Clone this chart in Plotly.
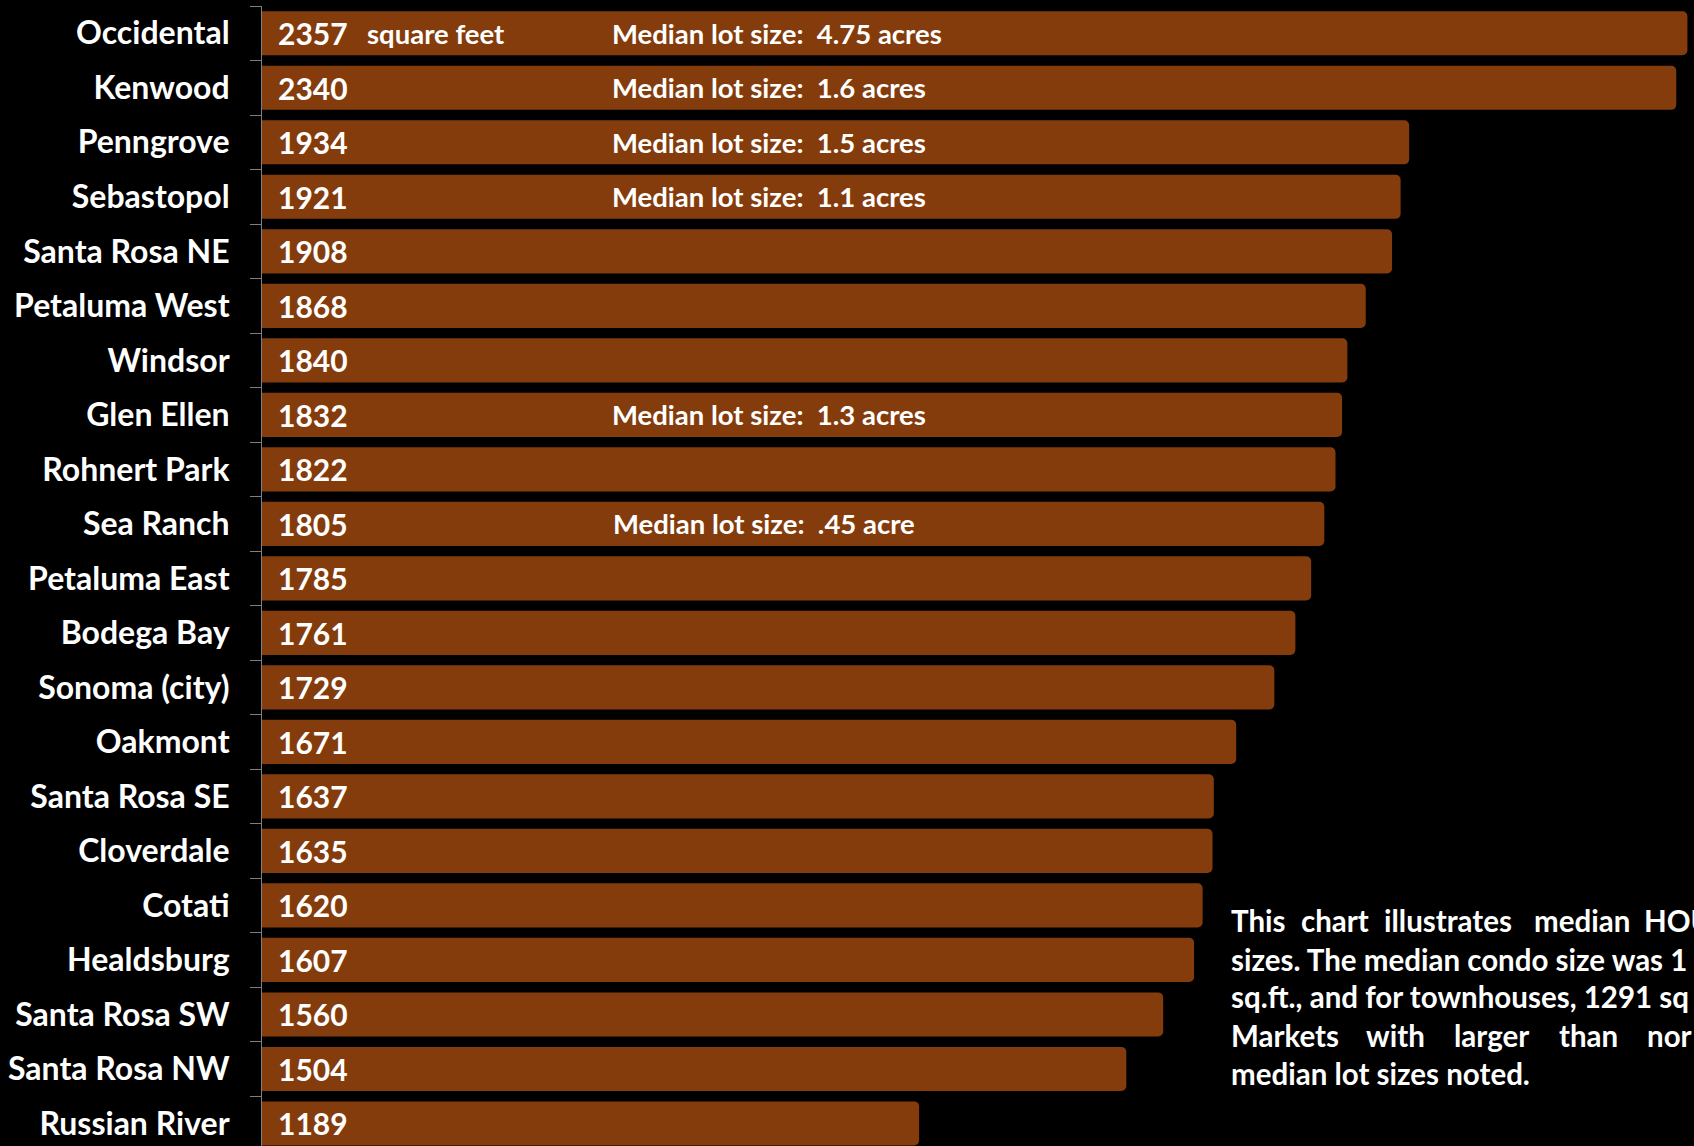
import plotly.graph_objects as go

# ---------------- data ----------------
areas = ["Occidental", "Kenwood", "Penngrove", "Sebastopol", "Santa Rosa NE",
         "Petaluma West", "Windsor", "Glen Ellen", "Rohnert Park", "Sea Ranch",
         "Petaluma East", "Bodega Bay", "Sonoma (city)", "Oakmont", "Santa Rosa SE",
         "Cloverdale", "Cotati", "Healdsburg", "Santa Rosa SW", "Santa Rosa NW",
         "Russian River"]
median_sqft = [2357, 2340, 1934, 1921, 1908, 1868, 1840, 1832, 1822, 1805,
               1785, 1761, 1729, 1671, 1637, 1635, 1620, 1607, 1560, 1504, 1189]

lot_areas = ["Occidental", "Kenwood", "Penngrove", "Sebastopol", "Glen Ellen", "Sea Ranch"]
lot_notes = ["Median lot size:  4.75 acres", "Median lot size:  1.6 acres",
             "Median lot size:  1.5 acres", "Median lot size:  1.1 acres",
             "Median lot size:  1.3 acres", "Median lot size:  .45 acre"]

unit_label = "square feet"

note_line1 = ["This", "chart", "illustrates", "median", "HOU"]
note_line2 = "sizes. The median condo size was 1"
note_line3 = "sq.ft., and for townhouses, 1291 sq"
note_line4 = ["Markets", "with", "larger", "than", "nor"]
note_line5 = "median lot sizes noted."

# ---------------- layout constants ----------------
W, H = 1694, 1146
PL, PR, PT, PB = 262, 1694, 6, 1146
BAR_COLOR = "#843C0C"
FONT = "Lato"
SHIFT = -3  # compensate annotation padding


def px_x(px):
    return (px + SHIFT - PL) / (PR - PL)


def px_y(py):
    return 1 - (py - PT) / (PB - PT)


fig = go.Figure()
fig.add_trace(go.Bar(
    x=median_sqft, y=areas, orientation="h",
    marker=dict(color=BAR_COLOR, line=dict(width=0), cornerradius=5),
    hoverinfo="x+y",
))

ann = []
# value labels inside bars
for a, v in zip(areas, median_sqft):
    ann.append(dict(x=px_x(279), xref="paper", y=a, yref="y", text=str(v),
                    xanchor="left", yanchor="middle", showarrow=False,
                    font=dict(family=FONT, size=30, color="white", weight="bold")))
# "square feet"
ann.append(dict(x=px_x(368), xref="paper", y=areas[0], yref="y", text=unit_label,
                xanchor="left", yanchor="middle", showarrow=False,
                font=dict(family=FONT, size=27.5, color="white", weight="bold")))
# lot size notes
for a, t in zip(lot_areas, lot_notes):
    xpx = 614 if a == "Sea Ranch" else 613
    ann.append(dict(x=px_x(xpx), xref="paper", y=a, yref="y", text=t,
                    xanchor="left", yanchor="middle", showarrow=False,
                    font=dict(family=FONT, size=27.5, color="white", weight="bold")))

# explanatory note (justified look)
note_font = dict(family=FONT, size=29.5, color="white", weight="bold")
line_y = [920.5, 959.4, 996.0, 1035.0, 1073.0]
line1_x = [1232, 1302, 1385, 1535, 1645]
line4_x = [1232, 1367, 1455, 1560, 1648]
for w, xp in zip(note_line1, line1_x):
    ann.append(dict(x=px_x(xp), xref="paper", y=px_y(line_y[0]), yref="paper", text=w,
                    xanchor="left", yanchor="middle", showarrow=False, font=note_font))
for w, xp in zip(note_line4, line4_x):
    ann.append(dict(x=px_x(xp), xref="paper", y=px_y(line_y[3]), yref="paper", text=w,
                    xanchor="left", yanchor="middle", showarrow=False, font=note_font))
for txt, yp in [(note_line2, line_y[1]), (note_line3, line_y[2]), (note_line5, line_y[4])]:
    ann.append(dict(x=px_x(1232), xref="paper", y=px_y(yp), yref="paper", text=txt,
                    xanchor="left", yanchor="middle", showarrow=False, font=note_font))

fig.update_layout(
    width=W, height=H,
    margin=dict(l=PL, r=W - PR, t=PT, b=H - PB, pad=0),
    paper_bgcolor="black", plot_bgcolor="black",
    bargap=0.19, showlegend=False,
    xaxis=dict(range=[190, 2367], visible=False, showgrid=False, zeroline=False),
    yaxis=dict(type="category", categoryorder="array", categoryarray=areas,
               range=[20.413, -0.5], autorange=False,
               showline=True, linecolor="#7f7f7f", linewidth=1,
               ticks="outside", tickson="boundaries", ticklen=11, tickcolor="#7f7f7f",
               tickwidth=1, showgrid=False, zeroline=False,
               ticklabelstandoff=25,
               tickfont=dict(family=FONT, size=32, color="white", weight="bold")),
    annotations=ann,
)

fig.write_html("out.html")
